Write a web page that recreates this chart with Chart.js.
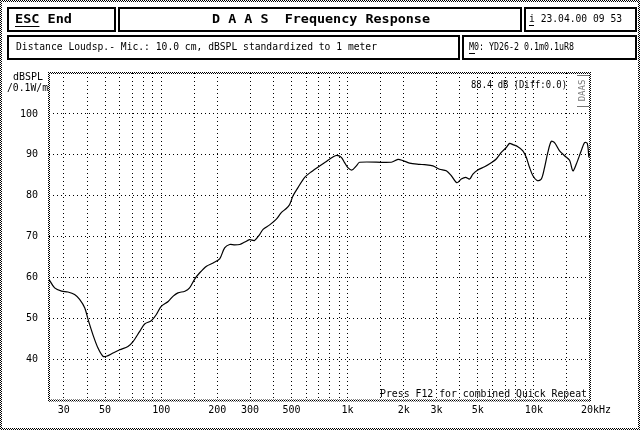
<!DOCTYPE html>
<html>
<head>
<meta charset="utf-8">
<script src="https://cdn.jsdelivr.net/npm/chart.js@4.4.0/dist/chart.umd.min.js"></script>
<style>
  body { margin: 0; background: #fff; }
  #wrap { width: 644px; height: 432px; }
</style>
</head>
<body>
<div id="wrap"><canvas id="myChart" width="644" height="432"></canvas></div>
<script>
const freqs = [25, 26.8, 29.2, 31.6, 34.3, 36.5, 38.9, 40.5, 43, 45.8, 48.7, 50.8, 55.1, 59.9, 66.3, 70.6,
  76.7, 81.5, 88.5, 94.2, 100, 109, 116, 123, 134, 142, 151, 161, 175, 190, 206, 219, 233, 248, 264,
  281, 298, 317, 338, 352, 382, 415, 441, 469, 489, 510, 542, 589, 640, 708, 770, 835, 877, 926, 964,
  1004, 1056, 1115, 1161, 1717, 1864, 1983, 2152, 2436, 2591, 2872, 3118, 3388, 3606, 3862, 4077,
  4302, 4519, 4707, 5000, 5435, 5903, 6281, 6679, 7105, 7410, 7710, 8201, 8724, 9099, 9480, 9879,
  10427, 10958, 11405, 11878, 12386, 12900, 13728, 14604, 15538, 16183, 16871, 17946, 18696, 19339, 19722]
const levels = [59.6, 57.5, 56.7, 56.5, 55.9, 54.7, 52.6, 49.8, 46.1, 42.8, 40.8, 40.8, 41.6, 42.4, 43.2, 44.4,
  46.9, 48.7, 49.5, 51.0, 53.0, 54.2, 55.5, 56.3, 56.7, 57.5, 59.6, 61.2, 62.8, 63.6, 64.6, 67.3, 68.1, 68.0, 68.1,
  68.7, 69.3, 69.1, 70.6, 71.8, 72.9, 74.3, 75.9, 76.9, 77.9, 80.0, 82.0, 84.5, 85.9, 87.3, 88.4, 89.5, 89.9, 89.4, 88.1,
  86.9, 86.3, 87.3, 88.2, 88.2, 88.9, 88.6, 88.0, 87.7, 87.6, 87.3, 86.5, 86.1, 84.9, 83.2, 84.1,
  84.5, 84.1, 85.3, 86.3, 87.1, 88.1, 89.0, 90.6, 91.8, 92.8, 92.5, 92.0, 91.0, 89.4, 86.9, 84.9,
  83.7, 84.1, 86.9, 90.6, 93.3, 93.0, 91.0, 89.8, 88.7, 86.1, 87.7, 91.0, 93.0, 92.8, 89.4]

const gridFreqs = [30, 40, 50, 60, 70, 80, 90, 100, 150, 200, 300, 400, 500, 600, 700, 800, 900, 1000,
  1500, 2000, 3000, 4000, 5000, 6000, 7000, 8000, 9000, 10000, 15000, 20000]
const labelFreqs = [30, 50, 100, 200, 300, 500, 1000, 2000, 3000, 5000, 10000, 20000]
const labelTexts = ['30', '50', '100', '200', '300', '500', '1k', '2k', '3k', '5k', '10k', '  20kHz']
const yLabels = [40, 50, 60, 70, 80, 90, 100]

const MONO = '"DejaVu Sans Mono", monospace'

// 2x2 checker used for the grey "dotted" frames
const chk = document.createElement('canvas')
chk.width = 2; chk.height = 2
const cc = chk.getContext('2d')
cc.fillStyle = '#000'
cc.fillRect(0, 0, 1, 1)
cc.fillRect(1, 1, 1, 1)

function fitText(ctx, str, x, y, w, font) {
  ctx.font = font
  const m = ctx.measureText(str).width
  ctx.save()
  ctx.translate(x, y)
  ctx.scale(w / m, 1)
  ctx.fillText(str, 0, 0)
  ctx.restore()
  return w / m
}

function checkerFrame(ctx, x, y, w, h) {
  ctx.fillStyle = ctx.createPattern(chk, 'repeat')
  ctx.fillRect(x, y, w, 2)
  ctx.fillRect(x, y + h - 2, w, 2)
  ctx.fillRect(x, y, 2, h)
  ctx.fillRect(x + w - 2, y, 2, h)
}

const decor = {
  id: 'decor',
  afterDraw(chart) {
    const ctx = chart.ctx
    const ca = chart.chartArea
    ctx.save()
    checkerFrame(ctx, 0, 0, 640, 430)
    checkerFrame(ctx, ca.left - 1, ca.top - 1, ca.right - ca.left + 2, ca.bottom - ca.top + 2)

    // header boxes
    ctx.strokeStyle = '#000'
    ctx.lineWidth = 2
    ctx.strokeRect(8, 8, 107, 23)
    ctx.strokeRect(119, 8, 402, 23)
    ctx.strokeRect(525, 8, 111, 23)
    ctx.strokeRect(8, 36, 451, 23)
    ctx.strokeRect(463, 36, 173, 23)

    ctx.fillStyle = '#000'
    ctx.textBaseline = 'middle'
    ctx.textAlign = 'left'
    let s = fitText(ctx, 'ESC End', 15, 19.5, 57, 'bold 13px ' + MONO)
    ctx.font = 'bold 13px ' + MONO
    ctx.fillRect(15, 26, ctx.measureText('ESC').width * s, 1)
    fitText(ctx, 'D A A S  Frequency Response', 212, 19.5, 218, 'bold 13px ' + MONO)
    s = fitText(ctx, 'i 23.04.00 09 53', 529, 19.5, 93, '10px ' + MONO)
    ctx.fillRect(529, 25, 5, 1)
    fitText(ctx, 'Distance Loudsp.- Mic.: 10.0 cm, dBSPL standardized to 1 meter', 16, 47.5, 361, '10px ' + MONO)
    fitText(ctx, 'M0: YD26-2 0.1m0.1uR8', 469, 47.5, 105, '10px ' + MONO)
    ctx.fillRect(469, 53, 6, 1)

    // axis unit
    fitText(ctx, 'dBSPL', 13, 77.5, 30, '10px ' + MONO)
    fitText(ctx, '/0.1W/m', 7, 88, 41, '10px ' + MONO)

    // in-plot notes
    fitText(ctx, '88.4 dB (Diff:0.0)', 471, 85.5, 96, '10px ' + MONO)
    fitText(ctx, 'Press F12 for combined Quick Repeat', 380, 394, 207, '10px ' + MONO)

    // small vertical logo
    ctx.fillStyle = '#777'
    ctx.fillRect(577, 75, 12, 1)
    ctx.fillRect(577, 106, 12, 1)
    ctx.save()
    ctx.translate(583, 90.5)
    ctx.rotate(-Math.PI / 2)
    ctx.textAlign = 'center'
    ctx.font = '9px ' + MONO
    ctx.fillText('DAAS', 0, 0)
    ctx.restore()
    ctx.restore()
  }
}

const data = {
  datasets: [{
    data: freqs.map((f, i) => ({ x: f, y: levels[i] })),
    borderColor: '#000',
    borderWidth: 1.2,
    pointRadius: 0,
    tension: 0.3,
    fill: false
  }]
}

const config = {
  type: 'line',
  data,
  options: {
    responsive: false,
    animation: false,
    devicePixelRatio: 1,
    layout: { padding: { top: 73, right: 54, left: 0, bottom: 0 } },
    plugins: { legend: { display: false }, tooltip: { enabled: false } },
    scales: {
      x: {
        type: 'logarithmic',
        min: 25,
        max: 20000,
        afterBuildTicks: scale => { scale.ticks = gridFreqs.map(v => ({ value: v })) },
        afterFit: scale => { scale.height = 31.5 },
        grid: {
          drawTicks: false,
          lineWidth: 1,
          color: c => (c.tick && c.tick.value === 20000) ? 'rgba(0,0,0,0)' : '#000'
        },
        border: { display: false, dash: [1, 3] },
        ticks: {
          autoSkip: false,
          maxRotation: 0,
          padding: 4,
          color: '#000',
          font: { family: MONO, size: 10 },
          callback: function(value) {
            const i = labelFreqs.indexOf(value)
            return i < 0 ? '' : labelTexts[i]
          }
        }
      },
      y: {
        min: 30,
        max: 110,
        afterFit: scale => { scale.width = 49 },
        grid: {
          drawTicks: false,
          lineWidth: 1,
          color: c => (c.tick && (c.tick.value === 30 || c.tick.value === 110)) ? 'rgba(0,0,0,0)' : '#000'
        },
        border: { display: false, dash: [1, 3] },
        ticks: {
          stepSize: 10,
          padding: 11,
          color: '#000',
          font: { family: MONO, size: 10 },
          callback: function(value) {
            return yLabels.includes(value) ? String(value) : ''
          }
        }
      }
    }
  },
  plugins: [decor]
}

const myChart = new Chart(document.getElementById('myChart').getContext('2d'), config)
</script>
</body>
</html>
